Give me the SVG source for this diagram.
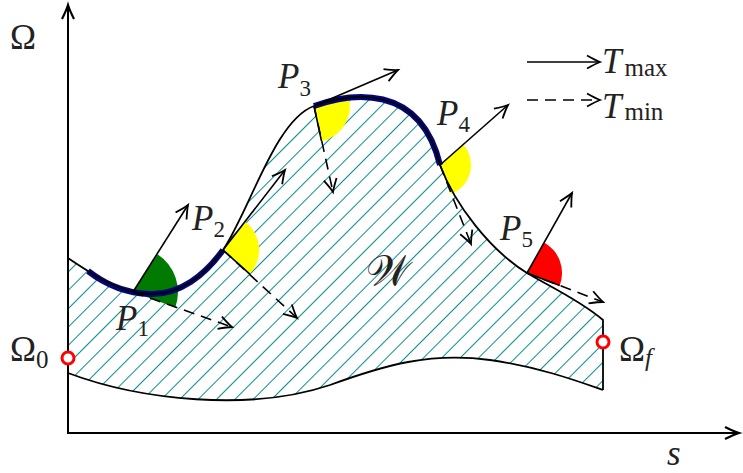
<svg xmlns="http://www.w3.org/2000/svg" width="743" height="473" viewBox="0 0 743 473">
<style>
.lbl{font-family:"Liberation Serif","DejaVu Serif",serif;fill:#222}
.it{font-style:italic}
.big{font-size:35px}
.sub{font-size:23px}
.lsub{font-size:25px}
.axis{stroke:#000;stroke-width:2;fill:none}
.bnd{stroke:#000;stroke-width:1.8;fill:none}
.blue{stroke:#05057a;stroke-width:6;fill:none}
.tmax{stroke:#000;stroke-width:1.6;fill:none;marker-end:url(#arr)}
.tmin{stroke:#000;stroke-width:1.6;fill:none;stroke-dasharray:11 7;marker-end:url(#arr)}
.edge{stroke:#000;stroke-width:1.6}
.omega{fill:#fff;stroke:#f00;stroke-width:3}
</style>
<defs>
<marker id="arr" markerUnits="userSpaceOnUse" viewBox="-15 -8 17 16" refX="0" refY="0" markerWidth="17" markerHeight="16" orient="auto" overflow="visible">
<path d="M-13,-6.5 Q-4,-1.5 0,0 Q-4,1.5 -13,6.5" fill="none" stroke="#000" stroke-width="1.8" stroke-dasharray="none"/>
</marker>
<marker id="axarr" markerUnits="userSpaceOnUse" viewBox="-16 -8 18 16" refX="0" refY="0" markerWidth="18" markerHeight="16" orient="auto" overflow="visible">
<path d="M-14,-6 Q-5,-1.5 0,0 Q-5,1.5 -14,6" fill="none" stroke="#000" stroke-width="2.2"/>
</marker>
<pattern id="hatch" patternUnits="userSpaceOnUse" width="20" height="13" patternTransform="rotate(-45)">
<line x1="-1" y1="6.5" x2="21" y2="6.5" stroke="#0a8f8f" stroke-width="1"/>
</pattern>
</defs>

<g id="region-W">
<path d="M68,258 C95,276 120,293 150,294 C180,295 205,275 223,250 C250,210 275,120 314,106 C350,93 420,82 440,165 C455,205 490,250 527,273 C545,284 580,300 603,320 L603,390 C580,382 540,367 490,360 C430,352 385,365 330,385 C250,412 140,400 68,373 Z" fill="url(#hatch)" stroke="none"/>
</g>

<g id="sectors">
<path id="sector-P1" d="M133,292 L157.5,254.3 A45,45 0 0 1 175.3,307.4 Z" fill="#007a00"/>
<path id="sector-P2" d="M223,250 L245.2,221.6 A36,36 0 0 1 249.8,274.1 Z" fill="#ffff00"/>
<path id="sector-P3" d="M314,106 L347.8,93.7 A36,36 0 0 1 321.5,141.2 Z" fill="#ffff00"/>
<path id="sector-P4" d="M440,165 L463.4,144.7 A31,31 0 0 1 451.1,193.9 Z" fill="#ffff00"/>
<path id="sector-P5" d="M527,273 L544.5,242.7 A35,35 0 0 1 559.7,285.5 Z" fill="#ff0000"/>
</g>

<g id="optimal-path">
<path class="blue" d="M88,271 C101,281 120,293 150,294 C180,295 205,275 223,250"/>
<path class="blue" d="M314,106 C350,93 420,82 440,165"/>
</g>

<g id="boundary">
<path class="bnd" d="M68,258 C95,276 120,293 150,294 C180,295 205,275 223,250 C250,210 275,120 314,106 C350,93 420,82 440,165 C455,205 490,250 527,273 C545,284 580,300 603,320 L603,390"/>
<path class="bnd" d="M68,373 C140,400 250,412 330,385 C385,365 430,352 490,360 C540,367 580,382 603,390"/>
</g>

<g id="axes">
<line class="axis" x1="68" y1="434" x2="68" y2="5" marker-end="url(#axarr)"/>
<line class="axis" x1="67" y1="433" x2="739" y2="433" marker-end="url(#axarr)"/>
</g>

<g id="connectors">
<line class="tmax" x1="133" y1="292" x2="188" y2="205"/>
<line class="tmin" x1="133" y1="292" x2="232" y2="327"/>
<line class="tmax" x1="223" y1="250" x2="285" y2="170"/>
<line class="edge" x1="223" y1="250" x2="249.8" y2="274.1"/>
<line class="tmin" x1="223" y1="250" x2="297" y2="318"/>
<line class="tmax" x1="314" y1="106" x2="398" y2="70"/>
<line class="edge" x1="314" y1="106" x2="321.5" y2="141.2"/>
<line class="tmin" x1="314" y1="106" x2="333" y2="192"/>
<line class="tmax" x1="440" y1="165" x2="508" y2="105"/>
<line class="tmin" x1="440" y1="165" x2="471" y2="244"/>
<line class="tmax" x1="527" y1="273" x2="572" y2="193"/>
<line class="edge" x1="527" y1="273" x2="559.7" y2="285.5"/>
<line class="tmin" x1="527" y1="273" x2="603" y2="302"/>
<line class="tmax" x1="527" y1="62" x2="600" y2="62"/>
<line class="tmin" x1="527" y1="100" x2="600" y2="100"/>
</g>

<g id="Omega0">
<circle class="omega" cx="68" cy="358" r="6"/>
<text class="lbl big" x="10" y="361">Ω<tspan class="lsub" dy="7">0</tspan></text>
</g>
<g id="Omegaf">
<circle class="omega" cx="603" cy="342" r="6"/>
<text class="lbl big" x="619" y="361">Ω<tspan class="lsub it" dy="5">f</tspan></text>
</g>

<g id="labels">
<text class="lbl big" x="10" y="49">Ω</text>
<text class="lbl big it" x="667" y="465">s</text>
<text class="lbl" x="388" y="285" text-anchor="middle" font-size="42" font-family="'DejaVu Serif','DejaVu Sans','Noto Sans',serif">𝒲</text>
<text class="lbl big it" x="116" y="330">P<tspan class="sub" font-style="normal" dy="6">1</tspan></text>
<text class="lbl big it" x="192" y="230">P<tspan class="sub" font-style="normal" dy="7">2</tspan></text>
<text class="lbl big it" x="278" y="88">P<tspan class="sub" font-style="normal" dy="8">3</tspan></text>
<text class="lbl big it" x="437" y="125">P<tspan class="sub" font-style="normal" dy="7">4</tspan></text>
<text class="lbl big it" x="500" y="240">P<tspan class="sub" font-style="normal" dy="7">5</tspan></text>
<text class="lbl big it" x="602" y="73">T<tspan class="lsub" font-style="normal" dx="3" dy="3">max</tspan></text>
<text class="lbl big it" x="602" y="118">T<tspan class="lsub" font-style="normal" dx="3" dy="2">min</tspan></text>
</g>
</svg>
